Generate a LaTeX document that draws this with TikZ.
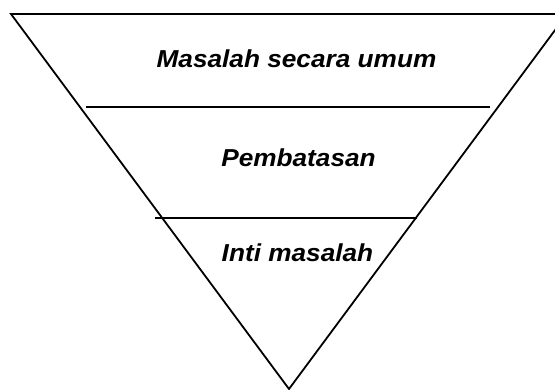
\documentclass[tikz,border=0pt]{standalone}
\usepackage{fontspec}
\usepackage{graphicx}
\setmainfont{Liberation Sans}
\tikzset{
  edge/.style={line width=1.8pt, black},
  lbl/.style={anchor=base, inner sep=0pt, font=\fontsize{24.5}{28}\selectfont\bfseries\itshape}
}
\begin{document}
\begin{tikzpicture}[x=1pt, y=-1pt]
\useasboundingbox (0,0) rectangle (555,390);
\clip (0,0) rectangle (555,390);
\coordinate (tl) at (11,14);
\coordinate (tr) at (567,14);
\coordinate (ap) at (289,389);
\coordinate (a1) at (86,107);
\coordinate (a2) at (490,107);
\coordinate (b1) at (155,218);
\coordinate (b2) at (417,218);
\draw[edge, line join=miter] (tl) -- (tr) -- (ap) -- cycle;
\draw[edge] (a1) -- (a2);
\draw[edge] (b1) -- (b2);
\node[lbl] (t1) at (296.5,68) {\scalebox{1.07}[1]{Masalah secara umum}};
\node[lbl] (t2) at (298.5,167) {\scalebox{1.07}[1]{Pembatasan}};
\node[lbl] (t3) at (297.5,262) {\scalebox{1.07}[1]{Inti masalah}};
\end{tikzpicture}
\end{document}
